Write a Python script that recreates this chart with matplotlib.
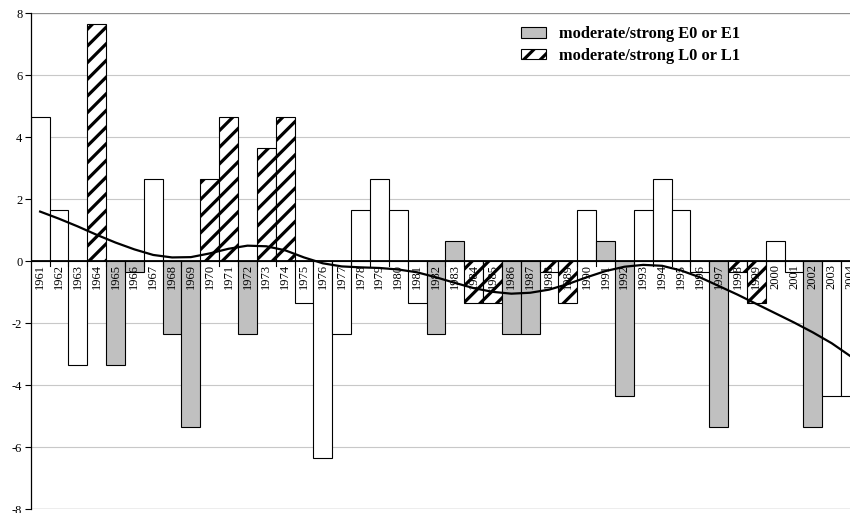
import numpy as np
import matplotlib
matplotlib.use("Agg")
import matplotlib.pyplot as plt
from matplotlib.patches import Patch

years = list(range(1961, 2005))
values = [4.65, 1.65, -3.35, 7.65, -3.35, -0.35, 2.65, -2.35, -5.35, 2.65,
          4.65, -2.35, 3.65, 4.65, -1.35, -6.35, -2.35, 1.65, 2.65, 1.65,
          -1.35, -2.35, 0.65, -1.35, -1.35, -2.35, -2.35, -0.35, -1.35, 1.65,
          0.65, -4.35, 1.65, 2.65, 1.65, -0.35, -5.35, -0.35, -1.35, 0.65,
          -0.35, -5.35, -4.35, -4.35]
# W = other years, E = moderate/strong E0 or E1, L = moderate/strong L0 or L1
classes = list("WWWLEEWEEL" "LELLWWWWWW" "WEELLEELLW" "EEWWWWELLW" "WEWW")
# trend curve at each year
trend = [1.6, 1.37, 1.12, 0.85, 0.6, 0.38, 0.2, 0.12, 0.13, 0.25,
         0.4, 0.5, 0.48, 0.35, 0.12, -0.07, -0.17, -0.2, -0.22, -0.27,
         -0.36, -0.52, -0.7, -0.87, -0.99, -1.05, -1.02, -0.92, -0.74, -0.52,
         -0.32, -0.18, -0.12, -0.15, -0.3, -0.52, -0.8, -1.08, -1.38, -1.68,
         -1.98, -2.3, -2.65, -3.07]
legend_labels = ["moderate/strong E0 or E1", "moderate/strong L0 or L1"]

plt.rcParams['hatch.linewidth'] = 2.3
serif = ['Liberation Serif', 'DejaVu Serif']

fig = plt.figure(figsize=(8.5, 5.13), dpi=100)
ax = fig.add_axes([30.7 / 850, 1 - 509 / 513, (860 - 30.7) / 850, (509 - 13.3) / 513])

x = np.arange(len(years))
for xi, v, c in zip(x, values, classes):
    if c == 'E':
        ax.bar(xi, v, width=1.0, color='#c0c0c0', edgecolor='black', linewidth=0.8, zorder=2)
    elif c == 'L':
        ax.bar(xi, v, width=1.0, color='white', edgecolor='black', hatch='//', linewidth=0.8, zorder=2)
    else:
        ax.bar(xi, v, width=1.0, color='white', edgecolor='black', linewidth=0.8, zorder=2)

ax.plot(x, trend, color='black', linewidth=1.6, zorder=4, solid_joinstyle='round')

ax.set_xlim(-0.5, len(years) - 0.5)
ax.set_ylim(-8, 8)
ax.set_yticks(np.arange(-8, 9, 2))
ax.set_yticklabels([str(t) for t in range(-8, 9, 2)], fontfamily=serif, fontsize=9)
ax.yaxis.grid(True, color='#c8c8c8', linewidth=0.8, zorder=0)
ax.set_axisbelow(True)
for s in ['top', 'right', 'bottom']:
    ax.spines[s].set_visible(False)
ax.spines['left'].set_linewidth(0.9)
ax.axhline(8, color='#909090', linewidth=0.9, zorder=1)
ax.axhline(-8, color='#909090', linewidth=0.9, zorder=1)
ax.axhline(0, color='black', linewidth=1.3, zorder=3)
ax.tick_params(axis='y', direction='out', length=4, width=0.8, pad=2)

# x-axis labels just below zero
ax.set_xticks([])
for xi, yr in zip(x, years):
    ax.text(xi, -0.1, str(yr), rotation=90, ha='center', va='top', fontsize=9,
            fontfamily=serif, zorder=5)
for b in np.arange(0.5, len(years) - 0.5, 1.0):
    ax.plot([b, b], [0, -0.15], color='black', linewidth=0.8, zorder=3)

handles = [Patch(facecolor='#c0c0c0', edgecolor='black', linewidth=0.8, label=legend_labels[0]),
           Patch(facecolor='white', edgecolor='black', hatch='//', linewidth=0.8, label=legend_labels[1])]
leg = ax.legend(handles=handles, loc='upper left', bbox_to_anchor=(0.5909, 0.974), frameon=False,
                borderaxespad=0, borderpad=0,
                prop={'family': serif, 'weight': 'bold', 'size': 11.8}, handlelength=1.55,
                handleheight=0.62, labelspacing=0.35, handletextpad=0.8)

fig.savefig('out.png', dpi=100)
